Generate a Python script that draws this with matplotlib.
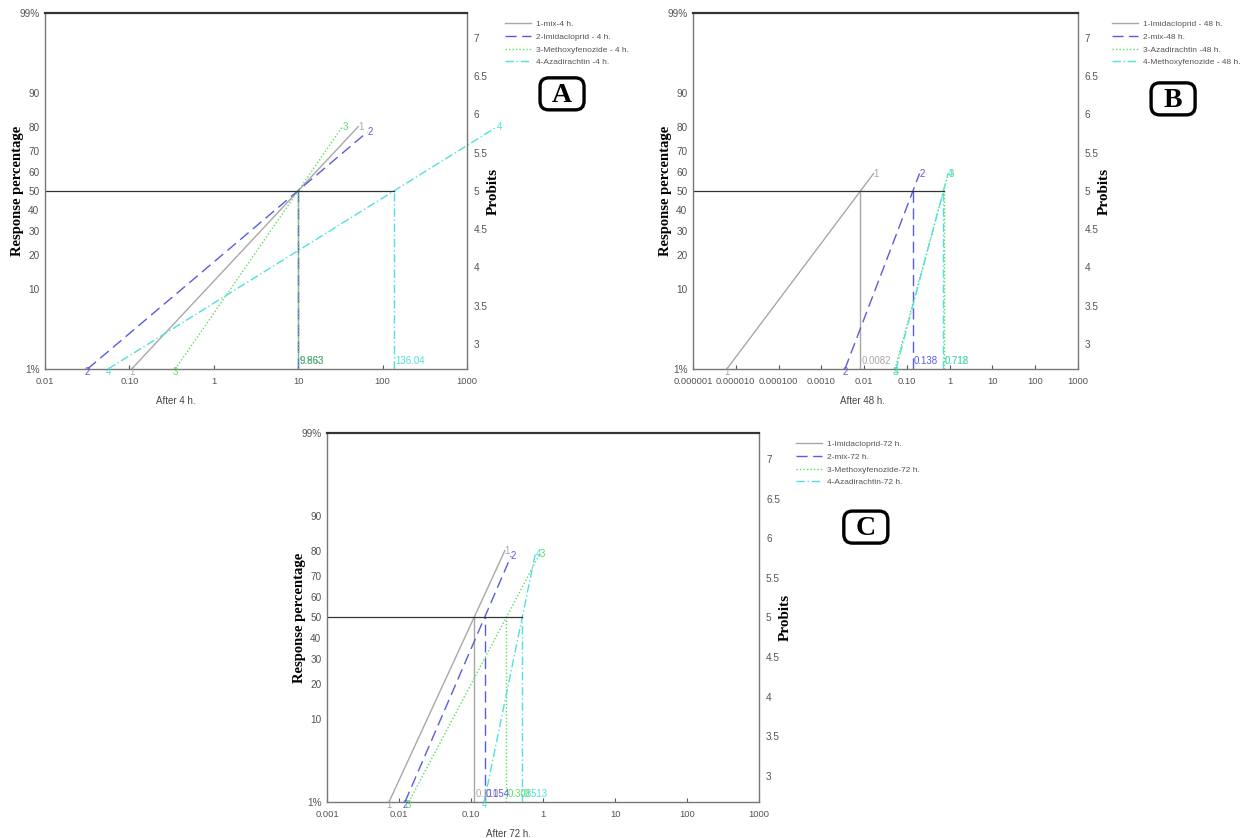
import numpy as np
import matplotlib.pyplot as plt
from matplotlib.patches import FancyBboxPatch
from statistics import NormalDist

# probit line charts of LC50 for the three exposure times

pct_ticks = [1, 10, 20, 30, 40, 50, 60, 70, 80, 90, 99]
pct_labels = ["1%", "10", "20", "30", "40", "50", "60", "70", "80", "90", "99%"]
probit_ticks = [3, 3.5, 4, 4.5, 5, 5.5, 6, 6.5, 7]

# panel A (4 h)
names_A = ["1-mix-4 h.", "2-Imidacloprid - 4 h.", "3-Methoxyfenozide - 4 h.", "4-Azadirachtin -4 h."]
lc50_A = [9.963, 9.863, 9.963, 136.04]
lc50_text_A = ["9.963", "9.863", "9.963", "136.04"]
slope_A = [1.18, 0.934, 1.60, 0.687]
top_A = [80, 78, 80, 80]
xticks_A = ["0.01", "0.10", "1", "10", "100", "1000"]

# panel B (48 h)
names_B = ["1-Imidacloprid - 48 h.", "2-mix-48 h.", "3-Azadirachtin -48 h.", "4-Methoxyfenozide - 48 h."]
lc50_B = [0.0082, 0.138, 0.718, 0.712]
lc50_text_B = ["0.0082", "0.138", "0.718", "0.712"]
slope_B = [0.745, 1.464, 2.05, 2.10]
top_B = [59, 59, 59, 59]
xticks_B = ["0.000001", "0.000010", "0.000100", "0.0010", "0.01", "0.10", "1", "10", "100", "1000"]

# panel C (72 h)
names_C = ["1-Imidacloprid-72 h.", "2-mix-72 h.", "3-Methoxyfenozide-72 h.", "4-Azadirachtin-72 h."]
lc50_C = [0.110, 0.154, 0.308, 0.513]
lc50_text_C = ["0.110", "0.154", "0.308", "0.513"]
slope_C = [1.97, 2.105, 1.72, 4.4]
top_C = [80, 78, 79, 79]
xticks_C = ["0.001", "0.01", "0.10", "1", "10", "100", "1000"]

colors = ["#a8a8a8", "#5b5be0", "#5fdc5f", "#4fe0e0"]
styles = ["-", (0, (8, 4)), (0, (1, 1.5)), (0, (6, 2, 1, 2))]
tick_col = "#555555"
SANS = "Liberation Sans"
SERIF = "Liberation Serif"


def probit(p):
    return 5 + NormalDist().inv_cdf(p / 100)


P_LO, P_HI = probit(1), probit(99)


def draw_panel(fig, rect, xmin, xmax, xticks, names, lc50, lc50_text, slope, top,
               xlabel, xlabel_x, letter, leg_xy, letter_xy):
    ax = fig.add_axes(rect)
    ax.set_xscale("log")
    ax.set_xlim(xmin, xmax)
    ax.set_ylim(P_LO, P_HI)

    for i in range(4):
        ph = probit(top[i])
        xs = [lc50[i] * 10 ** ((P_LO - 5) / slope[i]), lc50[i] * 10 ** ((ph - 5) / slope[i])]
        ax.plot(xs, [P_LO, ph], color=colors[i], ls=styles[i], lw=1.0,
                clip_on=False, label=names[i])
        ax.plot([lc50[i], lc50[i]], [P_LO, 5], color=colors[i], ls=styles[i], lw=1.0)
        ax.text(xs[0], P_LO - 0.04, str(i + 1), color=colors[i], fontsize=7,
                family=SANS, ha="center", va="center", clip_on=False)
        ax.text(xs[1], ph, str(i + 1), color=colors[i], fontsize=7, family=SANS,
                ha="left", va="center", clip_on=False)
        ax.text(lc50[i] * 1.04, P_LO + 0.04, lc50_text[i], color=colors[i], fontsize=7,
                family=SANS, ha="left", va="bottom")
    ax.plot([xmin, max(lc50)], [5, 5], color="#333333", lw=0.9)

    dec = np.log10(xmin) + np.arange(len(xticks))
    ax.set_xticks(10 ** dec)
    ax.set_xticklabels(xticks, family=SANS)
    ax.minorticks_off()
    ax.tick_params(axis="x", direction="in", length=3, pad=6, labelsize=6.8,
                   colors=tick_col)
    ax.set_yticks([probit(p) for p in pct_ticks])
    ax.set_yticklabels(pct_labels, family=SANS)
    ax.tick_params(axis="y", length=0, pad=4, labelsize=7.2, colors=tick_col)

    for s in ["left", "bottom", "right"]:
        ax.spines[s].set_color("#777777")
        ax.spines[s].set_linewidth(1.0)
    ax.spines["top"].set_color("#333333")
    ax.spines["top"].set_linewidth(1.6)

    ax2 = ax.twinx()
    ax2.set_ylim(P_LO, P_HI)
    ax2.set_yticks(probit_ticks)
    ax2.set_yticklabels([f"{t:g}" for t in probit_ticks], family=SANS)
    ax2.tick_params(axis="y", length=0, pad=5, labelsize=7.2, colors=tick_col)
    for s in ax2.spines.values():
        s.set_visible(False)

    w_px = rect[2] * 1244
    ax.set_ylabel("Response percentage", fontsize=10.5, fontweight="bold", family=SERIF)
    ax.yaxis.set_label_coords(-21 / w_px, 0.5)
    ax2.set_ylabel("Probits", fontsize=11, fontweight="bold", family=SERIF, rotation=90)
    ax2.yaxis.set_label_coords(1 + 20 / w_px, 0.5)

    ax.annotate(xlabel, xy=(xlabel_x, 0), xycoords="axes fraction", xytext=(0, -32),
                textcoords="offset pixels", ha="center", va="center", fontsize=7,
                family=SANS, color="#444444")

    fig.legend(*ax.get_legend_handles_labels(), loc="upper left",
               bbox_to_anchor=leg_xy, bbox_transform=fig.transFigure, frameon=False,
               prop={"family": SANS, "size": 6.0}, handlelength=3.1, handletextpad=0.6,
               labelspacing=0.6, borderpad=0, borderaxespad=0, labelcolor="#555555")

    # rounded letter box, 44 x 32 px
    bw, bh = 44 / 1244, 32 / 838
    fig.patches.append(FancyBboxPatch((letter_xy[0] - bw / 2, letter_xy[1] - bh / 2), bw, bh,
                                      boxstyle="round,pad=0,rounding_size=0.007",
                                      transform=fig.transFigure, fc="white", ec="black",
                                      lw=2.4, mutation_aspect=1244 / 838))
    fig.text(letter_xy[0], letter_xy[1] - 0.002, letter, fontsize=20, fontweight="bold",
             family=SERIF, ha="center", va="center")
    return ax


fig = plt.figure(figsize=(12.44, 8.38), dpi=100)

draw_panel(fig, [0.0362, 0.5597, 0.3392, 0.4248], 0.01, 1000, xticks_A, names_A, lc50_A,
           lc50_text_A, slope_A, top_A, "After 4 h.", 0.31, "A", (505 / 1244, 1 - 20 / 838),
           (0.4518, 0.888))
draw_panel(fig, [0.5571, 0.5597, 0.3095, 0.4248], 1e-6, 1000, xticks_B, names_B, lc50_B,
           lc50_text_B, slope_B, top_B, "After 48 h.", 0.44, "B", (1112 / 1244, 1 - 20 / 838),
           (0.943, 0.882))
draw_panel(fig, [0.2629, 0.0430, 0.3473, 0.4403], 0.001, 1000, xticks_C, names_C, lc50_C,
           lc50_text_C, slope_C, top_C, "After 72 h.", 0.42, "C", (796 / 1244, 1 - 440 / 838),
           (0.696, 0.371))

fig.savefig("out.png", dpi=100)
